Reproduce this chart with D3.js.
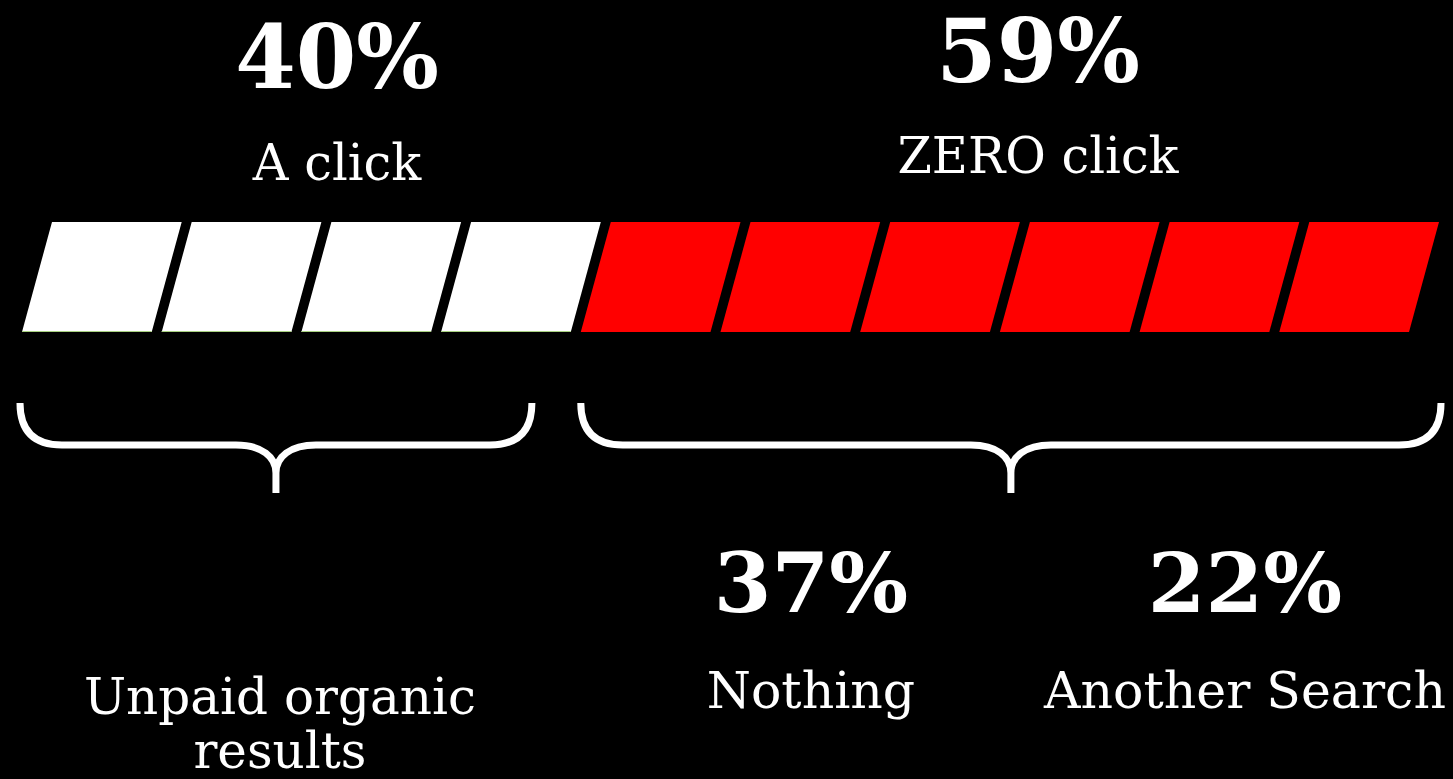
<!DOCTYPE html>
<html>
<head>
<meta charset="utf-8">
<script src="https://cdn.jsdelivr.net/npm/d3@7"></script>
<style>
  html, body { margin: 0; padding: 0; background: #000; }
  svg { display: block; }
  text { font-family: "DejaVu Serif", serif; fill: #fff; text-anchor: middle; }
</style>
</head>
<body>
<div id="chart"></div>
<script>
// data
const categories = ["A click", "ZERO click"];
const shares = [40, 59];
const blockColors = ["#ffffff", "#ff0000"];
const organicLabel = ["Unpaid organic", "results"];
const zeroLabels = ["Nothing", "Another Search"];
const zeroShares = [37, 22];

const W = 1453, H = 779;

const svg = d3.select("#chart")
	.append("svg")
	.attr("width", W)
	.attr("height", H);

svg.append("rect").attr("width", W).attr("height", H).attr("fill", "#000");

// one block for each 10%
const blocks = [];
shares.forEach((s, ci) => {
	const n = Math.round(s / 10);
	for (let k = 0; k < n; k++) blocks.push({ cat: ci });
});

const x = d3.scaleLinear().domain([0, blocks.length]).range([22, 1419]);
const y = d3.scaleLinear().domain([0, 1]).range([332, 222]);
const step = x(1) - x(0);
const blockW = step - 10;
const skew = 30;

svg.append("g")
	.selectAll("path")
	.data(blocks)
	.join("path")
		.attr("d", (d, i) => {
			const x0 = x(i);
			return "M" + x0 + "," + y(0) +
				"L" + (x0 + skew) + "," + y(1) +
				"L" + (x0 + skew + blockW) + "," + y(1) +
				"L" + (x0 + blockW) + "," + y(0) + "Z";
		})
		.attr("fill", d => blockColors[d.cat]);

// faint green edge under the white blocks
svg.append("g")
	.selectAll("line")
	.data(blocks.filter(d => d.cat === 0))
	.join("line")
		.attr("x1", (d, i) => x(i))
		.attr("x2", (d, i) => x(i) + blockW)
		.attr("y1", y(0) - 0.5)
		.attr("y2", y(0) - 0.5)
		.attr("stroke", "#a8d080")
		.attr("stroke-width", 1);

// braces
const nWhite = Math.round(shares[0] / 10);
const braces = [
	{ x1: x(0) - 2, x2: x(nWhite - 0.35) },
	{ x1: x(nWhite), x2: x(blocks.length) + 22 }
];

function bracePath(b){
	const top = 403, bar = 445, cusp = 473, tip = 493, r = 42, r2 = 40;
	const m = (b.x1 + b.x2) / 2;
	return "M" + b.x1 + "," + top +
		"C" + b.x1 + "," + (top + 28) + " " + (b.x1 + 14) + "," + bar + " " + (b.x1 + r) + "," + bar +
		"L" + (m - r2) + "," + bar +
		"C" + (m - 14) + "," + bar + " " + m + "," + (bar + 12) + " " + m + "," + cusp +
		"L" + m + "," + tip +
		"M" + m + "," + cusp +
		"C" + m + "," + (bar + 12) + " " + (m + 14) + "," + bar + " " + (m + r2) + "," + bar +
		"L" + (b.x2 - r) + "," + bar +
		"C" + (b.x2 - 14) + "," + bar + " " + b.x2 + "," + (top + 28) + " " + b.x2 + "," + top;
}

svg.append("g")
	.selectAll("path")
	.data(braces)
	.join("path")
		.attr("d", bracePath)
		.attr("fill", "none")
		.attr("stroke", "#fff")
		.attr("stroke-width", 7);

// top headline numbers + labels
const topPos = [{ cx: 337, num: 88, lab: 180 }, { cx: 1038, num: 82, lab: 173 }];

svg.append("g")
	.selectAll("text")
	.data(shares)
	.join("text")
		.attr("x", (d, i) => topPos[i].cx)
		.attr("y", (d, i) => topPos[i].num)
		.attr("font-size", 87)
		.attr("font-weight", "bold")
		.text(d => d + "%");

svg.append("g")
	.selectAll("text")
	.data(categories)
	.join("text")
		.attr("x", (d, i) => topPos[i].cx)
		.attr("y", (d, i) => topPos[i].lab)
		.attr("font-size", 49.5)
		.text(d => d);

// breakdown of zero click
const subX = [811, 1245];

svg.append("g")
	.selectAll("text")
	.data(zeroShares)
	.join("text")
		.attr("x", (d, i) => subX[i])
		.attr("y", 612)
		.attr("font-size", 83)
		.attr("font-weight", "bold")
		.text(d => d + "%");

svg.append("g")
	.selectAll("text")
	.data(zeroLabels)
	.join("text")
		.attr("x", (d, i) => subX[i])
		.attr("y", 708)
		.attr("font-size", 50.5)
		.text(d => d);

svg.append("g")
	.selectAll("text")
	.data(organicLabel)
	.join("text")
		.attr("x", 280)
		.attr("y", (d, i) => 714 + i * 54)
		.attr("font-size", 50)
		.text(d => d);
</script>
</body>
</html>
